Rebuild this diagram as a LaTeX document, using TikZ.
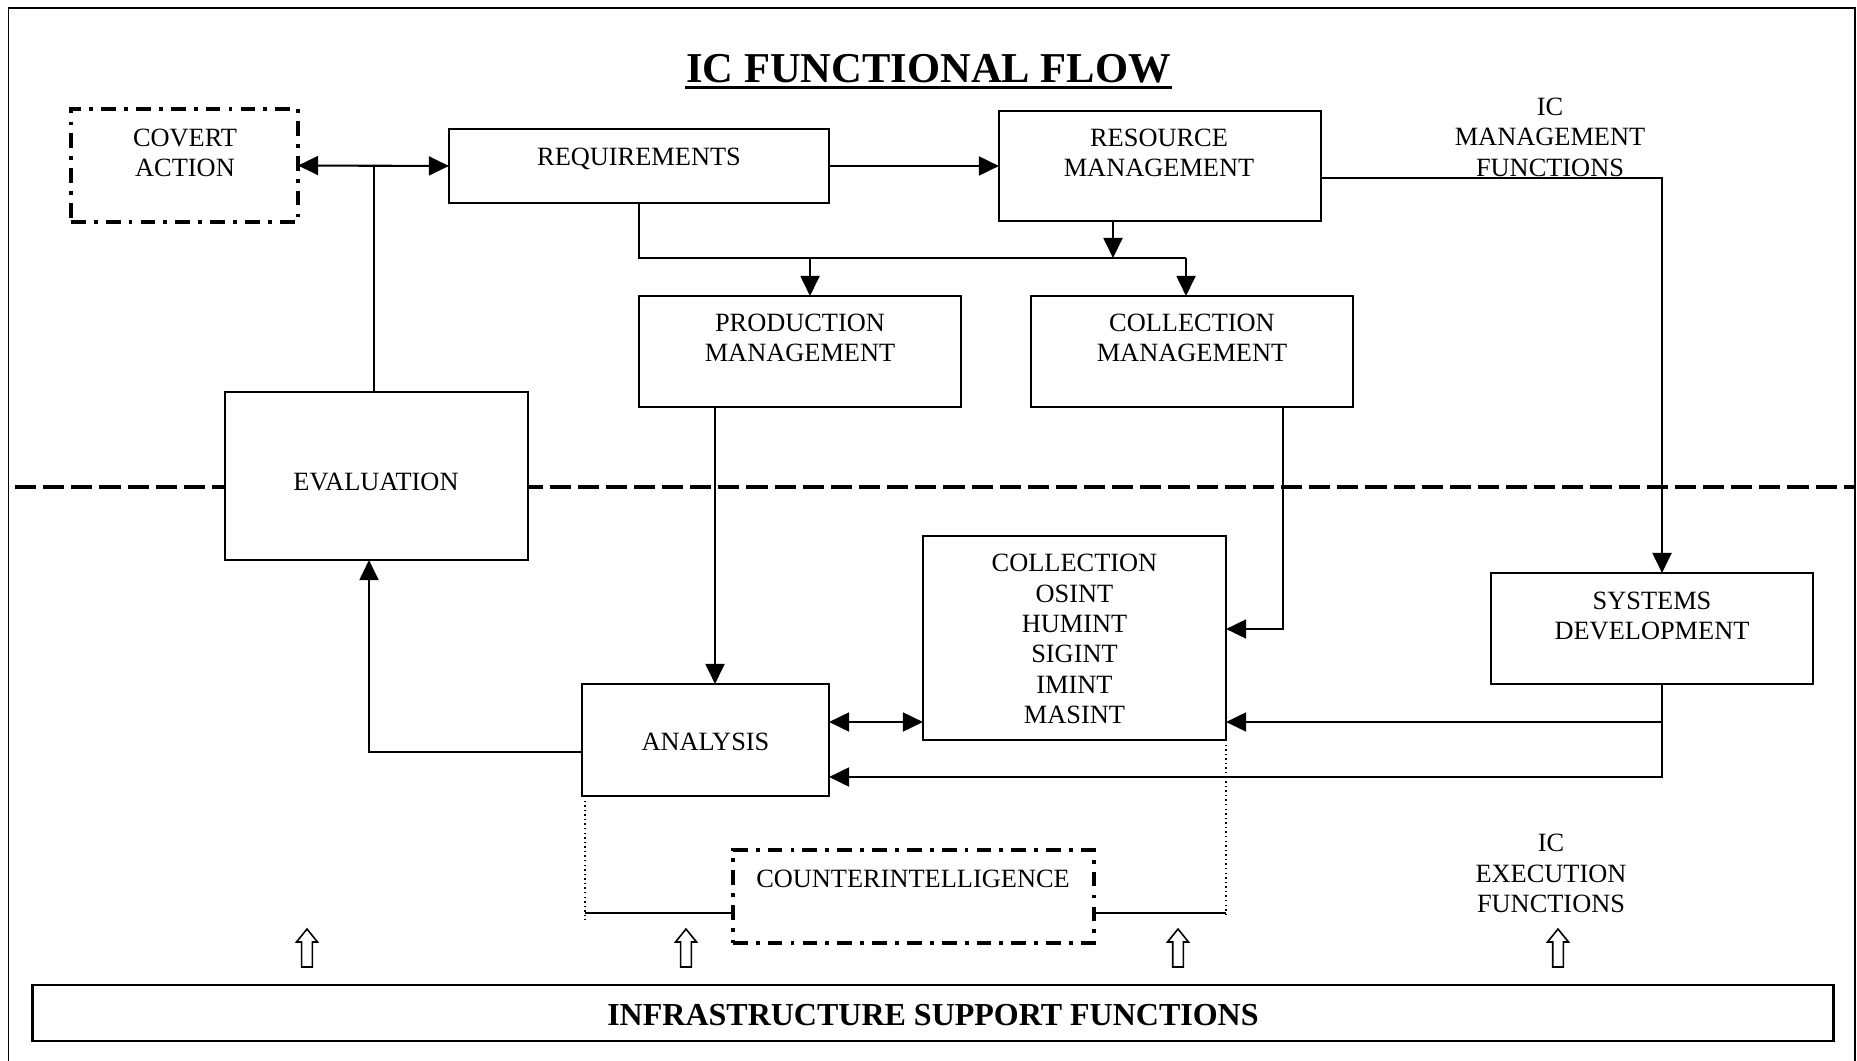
\documentclass[tikz,border=0pt]{standalone}
\usepackage{fontspec}
\setmainfont{Liberation Serif}
\usetikzlibrary{arrows.meta,calc}

\begin{document}
\begin{tikzpicture}[x=0.01cm,y=-0.01cm,
  box/.style={draw, line width=0.6pt, fill=white, rectangle, inner sep=0pt, outer sep=0pt},
  dashdotbox/.style={draw, line width=1.1pt, dash pattern=on 4.2pt off 2.3pt on 1.1pt off 2.3pt,
                     fill=white, rectangle, inner sep=0pt, outer sep=0pt},
  lbl/.style={font=\fontsize{7.5}{8.65}\selectfont, align=center, inner sep=0pt, text depth=0pt},
  conn/.style={line width=0.6pt},
  arr/.style={conn, -{Triangle[length=5.7pt,width=5.4pt]}},
  biarr/.style={conn, {Triangle[length=5.7pt,width=5.4pt]}-{Triangle[length=5.7pt,width=5.4pt]}},
  thindot/.style={line width=0.35pt, dash pattern=on 0.4pt off 0.9pt},
  uparrow/.pic={\draw[line width=0.45pt, fill=white]
      (0,0) -- (10.5,13) -- (5.3,13) -- (5.3,38) -- (-5.3,38) -- (-5.3,13) -- (-10.5,13) -- cycle;},
]
\useasboundingbox (0,0) rectangle (1857,1061);
\clip (0,0) rectangle (1857,1061);

% page frame (open at the foot of the page)
\draw[line width=0.5pt] (8.5,1080) -- (8.5,8.3) -- (1855,8.3) -- (1855,1080);

% management / execution divider
\draw[line width=1.1pt, dash pattern=on 6pt off 2pt] (15,487) -- (1855,487);

% title
\node[anchor=base, inner sep=0pt, font=\fontsize{12.1}{14}\selectfont\bfseries] (title) at (928.5,83) {IC FUNCTIONAL FLOW};
\draw[line width=0.85pt] ($(title.base west)+(0,5)$) -- ($(title.base east)+(0,5)$);

% side captions
\node[lbl] (mgmtT) at (1550,137) {IC\\MANAGEMENT\\FUNCTIONS};
\node[lbl] (execT) at (1551,873.5) {IC\\EXECUTION\\FUNCTIONS};

% boxes
\node[dashdotbox, minimum width=2.27cm, minimum height=1.13cm] (covert) at (184.5,165.5) {};
\node[box, minimum width=3.80cm, minimum height=0.74cm] (req)  at (639,166) {};
\node[box, minimum width=3.22cm, minimum height=1.10cm] (res)  at (1160,166) {};
\node[box, minimum width=3.22cm, minimum height=1.11cm] (prod) at (800,351.5) {};
\node[box, minimum width=3.22cm, minimum height=1.11cm] (colm) at (1192,351.5) {};
\node[box, minimum width=3.03cm, minimum height=1.68cm] (eval) at (376.5,476) {};
\node[box, minimum width=3.03cm, minimum height=2.04cm] (coll) at (1074.5,638) {};
\node[box, minimum width=2.47cm, minimum height=1.12cm] (ana)  at (705.5,740) {};
\node[box, minimum width=3.22cm, minimum height=1.11cm] (sys)  at (1652,628.5) {};
\node[dashdotbox, minimum width=3.61cm, minimum height=0.93cm] (ci) at (913.5,896.5) {};
\node[box, minimum width=18.00cm, minimum height=0.56cm] (infra) at (933,1013) {};

% box texts
\node[lbl] (covertT) at (185,153)    {COVERT\\ACTION};
\node[lbl] (reqT)    at (639,157)    {REQUIREMENTS};
\node[lbl] (resT)    at (1159,153)   {RESOURCE\\MANAGEMENT};
\node[lbl] (prodT)   at (800,337.5)  {PRODUCTION\\MANAGEMENT};
\node[lbl] (colmT)   at (1192,337.5) {COLLECTION\\MANAGEMENT};
\node[lbl] (evalT)   at (376,482)    {EVALUATION};
\node[lbl] (collT)   at (1074.5,639) {COLLECTION\\OSINT\\HUMINT\\SIGINT\\IMINT\\MASINT};
\node[lbl] (anaT)    at (705.5,742)  {ANALYSIS};
\node[lbl] (sysT)    at (1652,616)   {SYSTEMS\\DEVELOPMENT};
\node[lbl] (ciT)     at (913,879)    {COUNTERINTELLIGENCE};
\node[lbl, font=\fontsize{9.1}{11}\selectfont\bfseries] (infraT) at (933,1015) {INFRASTRUCTURE SUPPORT FUNCTIONS};

% routing points
\coordinate (j1)   at (374,166);
\coordinate (rs)   at (1662,178);
\coordinate (busR) at (1186,258);
\coordinate (rb)   at (1113,258);
\coordinate (bp)   at (810,258);
\coordinate (pa)   at (715,407);
\coordinate (cc)   at (1283,629);
\coordinate (ac)   at (876,722);
\coordinate (s1)   at (1662,722);
\coordinate (s2)   at (1662,777);
\coordinate (ae)   at (369,752);
\coordinate (cl)   at (585,913);
\coordinate (cr)   at (1226,913);

% management flow
\draw[biarr] (covert.east) -- (req.west);
\draw[conn] (j1) -- (j1 |- eval.north);
\draw[arr] (req.east) -- (res.west);
\draw[arr] (res.east |- rs) -- (rs) -- (rs |- sys.north);
\draw[conn] (req.south) |- (busR);
\draw[arr] (rb |- res.south) -- (rb);
\draw[arr] (bp) -- (bp |- prod.north);
\draw[arr] (busR) -- (busR |- colm.north);

% execution flow
\draw[arr] (pa |- prod.south) -- (pa |- ana.north);
\draw[arr] (cc |- colm.south) -- (cc) -- (cc -| coll.east);
\draw[biarr] (ana.east |- ac) -- (coll.west |- ac);
\draw[arr] (s1 |- sys.south) -- (s1) -- (s1 -| coll.east);
\draw[arr] (s1) -- (s2) -- (s2 -| ana.east);
\draw[arr] (ae -| ana.west) -- (ae) -- (ae |- eval.south);

% counterintelligence links
\draw[thindot] (cl |- ana.south) -- ($(cl)+(0,7)$);
\draw[thindot] (cr |- coll.south) -- ($(cr)+(0,4)$);
\draw[conn] (cl) -- (cl -| ci.west);
\draw[conn] (ci.east |- cr) -- (cr);

% support arrows rising from the infrastructure bar
\pic at (307,929)  {uparrow};
\pic at (686,929)  {uparrow};
\pic at (1178,929) {uparrow};
\pic at (1558,929) {uparrow};
\end{tikzpicture}
\end{document}
